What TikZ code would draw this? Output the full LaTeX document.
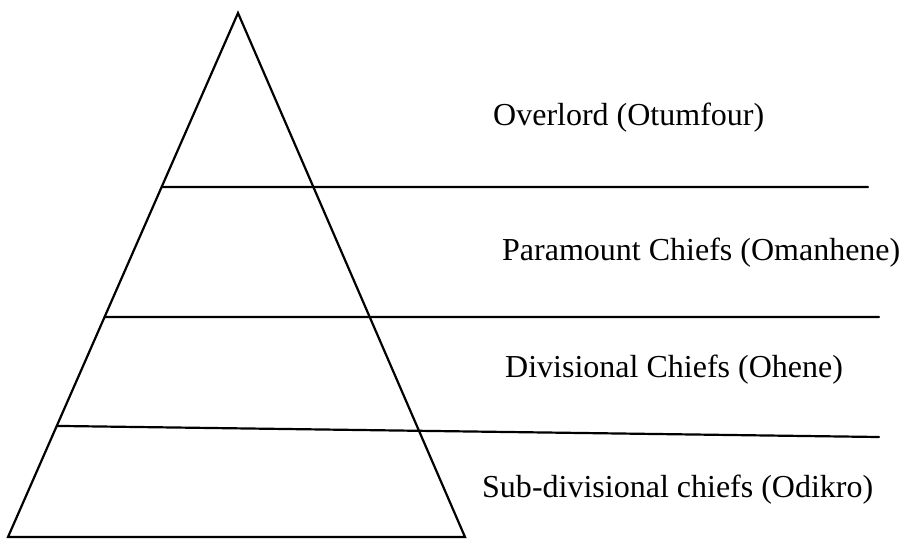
\documentclass[tikz,border=0pt]{standalone}
\usepackage{fontspec}
\setmainfont{Liberation Serif}
\usetikzlibrary{calc}
\begin{document}
\begin{tikzpicture}[x=1pt,y=-1pt,
  edge/.style={line width=2.2pt, line cap=round, line join=miter},
  tier/.style={anchor=base west, inner sep=0pt, font=\fontsize{32}{38}\selectfont}]
  \useasboundingbox (0,0) rectangle (904,539);
  % pyramid outline
  \coordinate (apex) at (238,13);
  \coordinate (bl) at (8,537);
  \coordinate (br) at (465,537);
  \draw[edge] (apex) -- (bl) -- (br) -- cycle;
  % tier dividers
  \coordinate (s1) at ($(apex)!0.332!(bl)$);
  \coordinate (e1) at (868,187);
  \coordinate (s2) at ($(apex)!0.580!(bl)$);
  \coordinate (e2) at (879,317);
  \coordinate (s3) at ($(apex)!0.788!(bl)$);
  \coordinate (e3) at (879,437);
  \draw[edge] (s1) -- (e1);
  \draw[edge] (s2) -- (e2);
  \draw[edge] (s3) -- (e3);
  % tier labels
  \node[tier] (t1) at (493,125) {Overlord (Otumfour)};
  \node[tier] (t2) at (502,260) {Paramount Chiefs (Omanhene)};
  \node[tier] (t3) at (505,377) {Divisional Chiefs (Ohene)};
  \node[tier] (t4) at (482,497) {Sub-divisional chiefs (Odikro)};
\end{tikzpicture}
\end{document}
